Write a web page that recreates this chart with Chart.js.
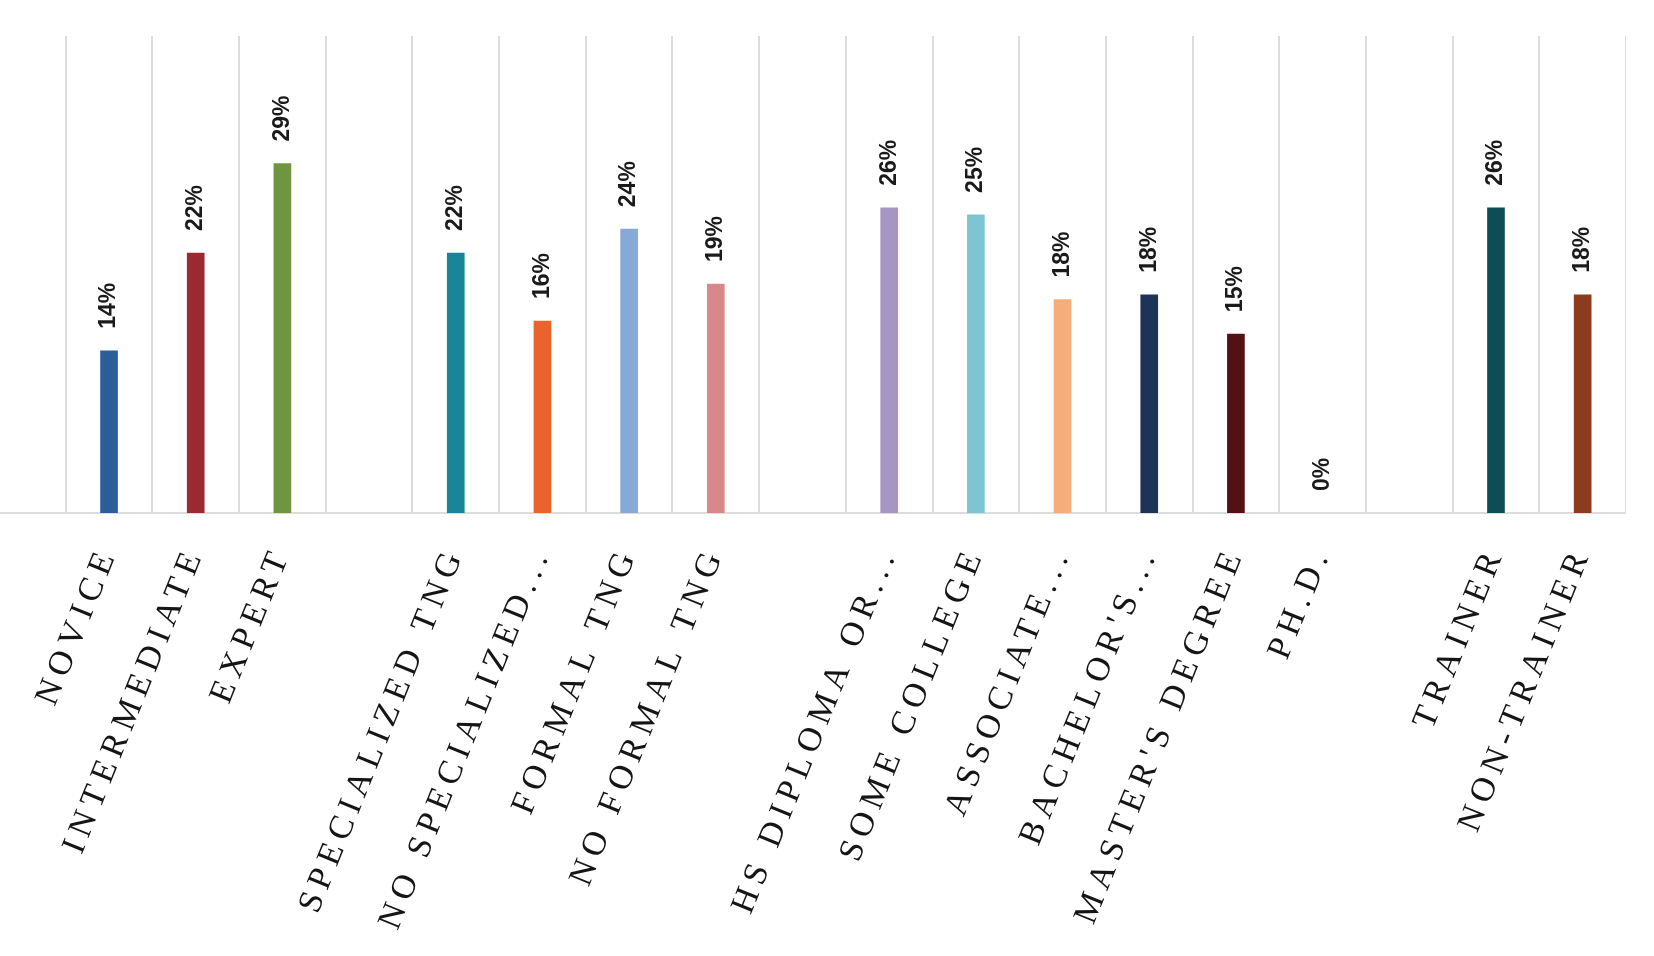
<!DOCTYPE html>
<html>
<head>
<meta charset="utf-8">
<title>Share by group</title>
<script src="https://cdn.jsdelivr.net/npm/chart.js@4.4.1/dist/chart.umd.min.js"></script>
<style>
  html, body { margin: 0; padding: 0; background: #fff; overflow: hidden; }
  #wrap { position: absolute; left: -21px; top: 0; width: 1647px; height: 956px; }
</style>
</head>
<body>
<div id="wrap"><canvas id="shareChart"></canvas></div>
<script>
// Categories (blank entries are the gaps between groups)
const categories = [
    '', 'NOVICE', 'INTERMEDIATE', 'EXPERT',
    '', 'SPECIALIZED TNG', 'NO SPECIALIZED...', 'FORMAL TNG', 'NO FORMAL TNG',
    '', 'HS DIPLOMA OR...', 'SOME COLLEGE', 'ASSOCIATE...', "BACHELOR'S...", "MASTER'S DEGREE", 'PH.D.',
    '', 'TRAINER', 'NON-TRAINER'
];

// Percent values
const shares = [
    null, 13.6, 21.8, 29.3,
    null, 21.8, 16.1, 23.8, 19.2,
    null, 25.6, 25.0, 17.9, 18.3, 15.0, 0,
    null, 25.6, 18.3
];

const barColors = [
    null, '#2b5d9b', '#9b2a30', '#6e9640',
    null, '#1a8499', '#e8642a', '#87a9d6', '#d9888a',
    null, '#a796c3', '#7dc5d5', '#f5ae7b', '#1e3358', '#521214', 'transparent',
    null, '#0f4d56', '#8e3a1e'
];

// letter spacing for the category labels
const spacedTicks = {
    id: 'spacedTicks',
    beforeDraw(chart) {
        chart.ctx.letterSpacing = '6.5px';
    }
};

// rotated value labels above each bar
const barValueLabels = {
    id: 'barValueLabels',
    afterDatasetsDraw(chart) {
        const ctx = chart.ctx;
        const meta = chart.getDatasetMeta(0);
        ctx.save();
        ctx.letterSpacing = '0px';
        ctx.font = 'bold 23px "Liberation Sans", Arial, sans-serif';
        ctx.fillStyle = '#1a1a1a';
        ctx.textAlign = 'left';
        ctx.textBaseline = 'middle';
        meta.data.forEach((bar, i) => {
            const v = shares[i];
            if (v === null) return;
            ctx.save();
            ctx.translate(bar.x, bar.y - 22);
            ctx.rotate(-Math.PI / 2);
            ctx.fillText(Math.round(v) + '%', 0, 0);
            ctx.restore();
        });
        ctx.restore();
    }
};

document.addEventListener('DOMContentLoaded', () => {
    const ctx = document.getElementById('shareChart').getContext('2d');
    new Chart(ctx, {
        type: 'bar',
        data: {
            labels: categories,
            datasets: [{
                data: shares,
                backgroundColor: barColors,
                barThickness: 17
            }]
        },
        options: {
            responsive: true,
            maintainAspectRatio: false,
            animation: false,
            layout: { padding: { top: 36, left: 0, right: 0, bottom: 0 } },
            plugins: {
                legend: { display: false },
                tooltip: { enabled: false }
            },
            scales: {
                x: {
                    grid: { display: true, offset: true, color: '#dcdcdc', lineWidth: 2, drawTicks: false },
                    border: { display: true, color: '#dcdcdc', width: 2 },
                    ticks: {
                        autoSkip: false,
                        minRotation: 68,
                        maxRotation: 68,
                        padding: 28,
                        color: '#151515',
                        font: { family: '"Liberation Serif", "Times New Roman", serif', size: 34 }
                    },
                    afterFit(scale) {
                        scale.height = 443;
                        scale.paddingLeft = 0;
                        scale.paddingRight = 0;
                    }
                },
                y: {
                    display: false,
                    min: 0,
                    max: 40
                }
            }
        },
        plugins: [spacedTicks, barValueLabels]
    });
});
</script>
</body>
</html>
